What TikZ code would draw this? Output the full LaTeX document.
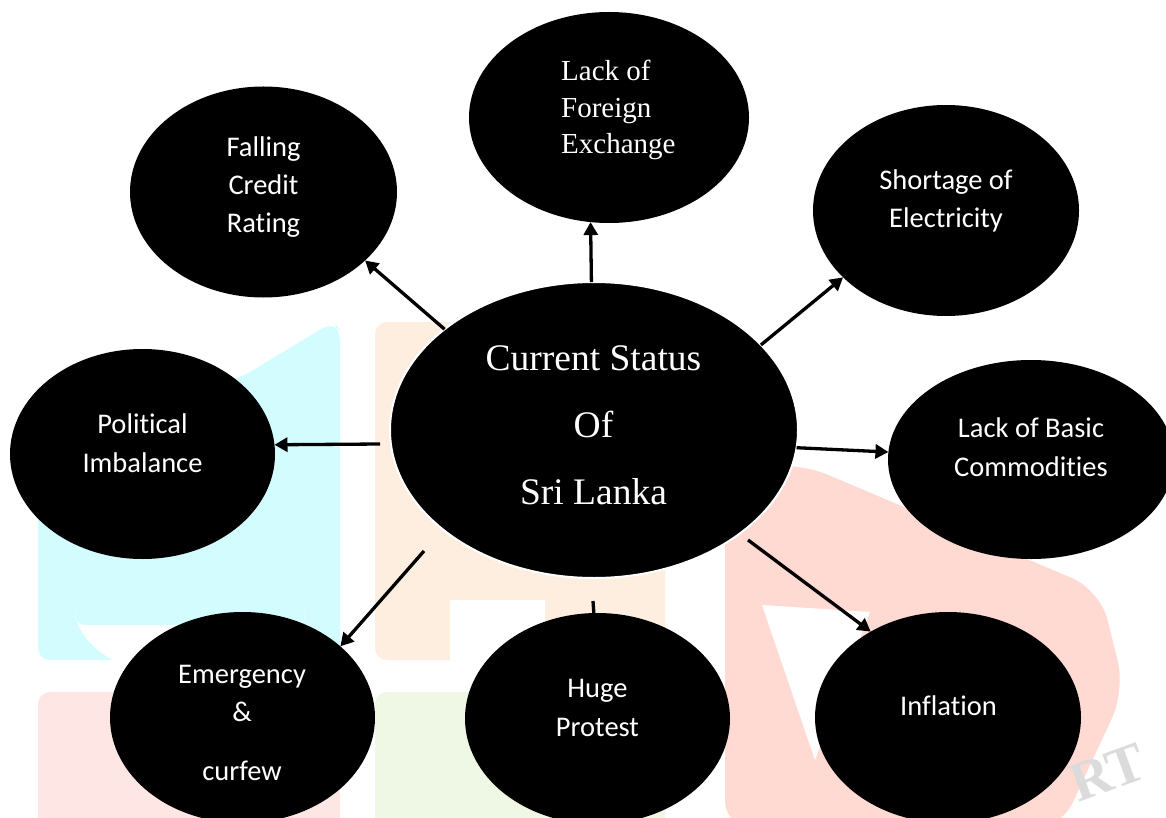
\documentclass[tikz,border=0pt]{standalone}
\usepackage{fontspec}
\setmainfont{Liberation Serif}
\newfontfamily\calib[Ligatures={NoCommon}]{Carlito}
\usetikzlibrary{shapes.geometric,arrows.meta}
\definecolor{wmcyan}{HTML}{D2FCFD}
\definecolor{wmorange}{HTML}{FDEEDF}
\definecolor{wmpink}{HTML}{FDE6E4}
\definecolor{wmgreen}{HTML}{EEF8E5}
\definecolor{wmred}{HTML}{FFDAD3}
\begin{document}
\begin{tikzpicture}[x=1pt,y=-1pt,
  bubble/.style={ellipse,fill=black,inner sep=0pt,outer sep=0pt},
  cal/.style={text=white,inner sep=0pt,anchor=base,font=\calib\fontsize{28.5}{34}\selectfont},
  tms/.style={text=white,inner sep=0pt,anchor=base,font=\fontsize{37.5}{44}\selectfont},
  tmss/.style={text=white,inner sep=0pt,anchor=base west,font=\fontsize{29}{34}\selectfont},
  conn/.style={line width=3.3pt,-{Triangle[length=13pt,width=14pt]}},
  stub/.style={line width=3.3pt}]
\useasboundingbox (0,0) rectangle (1166,818);
\clip (0,0) rectangle (1166,818);
\fill[white] (0,0) rectangle (1166,818);
% watermark
\fill[wmcyan,rounded corners=12pt] (38,660) -- (38,420) -- (240,378) -- (333,322) -- (340,330) -- (340,660) -- cycle;
\fill[white,rounded corners=10pt] (75,625) -- (75,600) arc[start angle=180,end angle=0,x radius=115,y radius=80] -- (305,625) -- cycle;
\fill[wmcyan] (170,567) rectangle (305,580);
\fill[wmorange,rounded corners=12pt] (375,322) rectangle (665,660);
\fill[white] (450,600) -- (545,600) -- (545,660) -- (450,660) -- cycle;
\fill[wmpink,rounded corners=12pt] (38,692) rectangle (340,830);
\fill[wmgreen,rounded corners=12pt] (375,692) rectangle (665,830);
\fill[wmred,rounded corners=30pt] (725,830) -- (725,470) -- (800,463) -- (1100,590) -- (1125,690) -- (1060,830) -- cycle;
\fill[white] (762,605) -- (870,612) -- (815,760) -- cycle;
\node[text=gray!28,rotate=20,font=\bfseries\fontsize{56}{56}\selectfont,inner sep=0pt] (wm) at (1108,772) {RT};
% nodes
\node[bubble,draw=white,line width=2pt,minimum width=408pt,minimum height=296pt] (c) at (594,430) {};
\node[bubble,minimum width=280pt,minimum height=211pt] (fx) at (609,117.5) {};
\node[bubble,minimum width=267pt,minimum height=211pt] (fc) at (263.5,192) {};
\node[bubble,minimum width=266pt,minimum height=211pt] (se) at (946,210.5) {};
\node[bubble,minimum width=265pt,minimum height=210pt] (pi) at (142.5,454) {};
\node[bubble,minimum width=286pt,minimum height=199pt] (bc) at (1031,459.5) {};
\node[bubble,minimum width=265pt,minimum height=211pt] (ec) at (242.5,717.5) {};
\node[bubble,minimum width=265pt,minimum height=211pt] (hp) at (597.5,718.5) {};
\node[bubble,minimum width=266pt,minimum height=211pt] (in) at (948,717.5) {};
% texts
\node[tms] (c1) at (593.5,370) {Current Status};
\node[tms] (c2) at (593.5,437) {Of};
\node[tms] (c3) at (593.5,504) {Sri Lanka};
\node[tmss] (fx1) at (561,81) {Lack of};
\node[tmss] (fx2) at (561,117.5) {Foreign};
\node[tmss] (fx3) at (561,154) {Exchange};
\node[cal] (fc1) at (263.5,157) {Falling};
\node[cal] (fc2) at (263.5,195) {Credit};
\node[cal] (fc3) at (263.5,233) {Rating};
\node[cal] (se1) at (946,190) {Shortage of};
\node[cal] (se2) at (946,228) {Electricity};
\node[cal] (pi1) at (142.5,433) {Political};
\node[cal] (pi2) at (142.5,472) {Imbalance};
\node[cal] (bc1) at (1031,437) {Lack of Basic};
\node[cal] (bc2) at (1031,476) {Commodities};
\node[cal] (ec1) at (242,683) {Emergency};
\node[cal] (ec2) at (242,721) {\&};
\node[cal] (ec3) at (242,780) {curfew};
\node[cal] (hp1) at (597.5,697) {Huge};
\node[cal] (hp2) at (597.5,736) {Protest};
\node[cal] (in1) at (948.5,715) {Inflation};
% free ends
\coordinate (ps) at (380,444);
\coordinate (es) at (424,551);
\coordinate (hs) at (593,601);
\coordinate (is) at (748,540);
% connectors
\draw[conn] (c.146) -- (fc.-34);
\draw[conn] (c.91.5) -- (fx.260.1);
\draw[conn] (c.27.7) -- (se.213.1);
\draw[conn] (c.-5.1) -- (bc.177);
\draw[conn] (ps) -- (pi.4.3);
\draw[conn] (es) -- (ec.36.9);
\draw[stub] (hs) -- (hp.92.4);
\draw[conn] (is) -- (in.132.8);
\end{tikzpicture}
\end{document}
